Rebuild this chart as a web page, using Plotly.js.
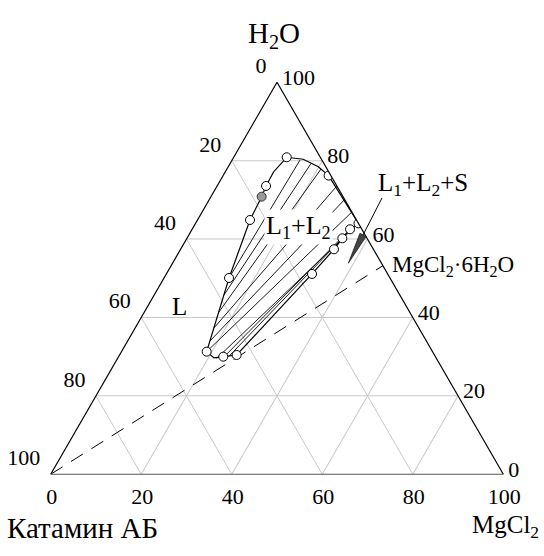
<!DOCTYPE html>
<html>
<head>
<meta charset="utf-8">
<script src="https://cdn.plot.ly/plotly-3.0.1.min.js"></script>
<style>html,body{margin:0;padding:0;background:#fff;}#chart{width:544px;height:556px;}</style>
</head>
<body>
<div id="chart"></div>
<script>
// Tick values and labels (labels run opposite to Plotly's default direction)
const tickVals = [0, 20, 40, 60, 80, 100];
const tickText = ['100', '80', '60', '40', '20', '0'];

// Vertex names
const vertexTop = 'H<sub>2</sub>O';
const vertexLeft = 'Катамин АБ';
const vertexRight = 'MgCl<sub>2</sub>';

// Binodal curve (a = H2O, b = Катамин АБ, c = MgCl2), mass %
const curveA = [31.28, 29.67, 30.0, 30.43, 51.10, 57.40, 60.20, 62.50, 64.0, 76.2, 78.47, 80.36, 80.87, 77.12, 73.55, 70.82, 64.87, 50.08, 31.28];
const curveB = [49.9, 49.08, 46.87, 43.7, 16.71, 8.71, 5.47, 2.61, 0.0, 0.5, 1.64, 4.02, 7.42, 12.21, 15.65, 17.98, 23.53, 35.56, 49.9];
const curveC = [18.82, 21.25, 23.13, 25.87, 32.19, 33.89, 34.33, 34.89, 36.0, 23.3, 19.89, 15.62, 11.71, 10.67, 10.80, 11.2, 11.6, 14.36, 18.82];

// Experimental points (open circles)
const ptA = [31.28, 30.0, 30.43, 51.10, 57.40, 60.20, 62.50, 64.0, 76.2, 80.87, 73.55, 64.87, 50.08];
const ptB = [49.9, 46.87, 43.7, 16.71, 8.71, 5.47, 2.61, 0.0, 0.5, 7.42, 15.65, 23.53, 35.56];
const ptC = [18.82, 23.13, 25.87, 32.19, 33.89, 34.33, 34.89, 36.0, 23.3, 11.71, 10.80, 11.6, 14.36];

// Special point (grey filled circle)
const greyA = [70.82];
const greyB = [17.98];
const greyC = [11.2];

// Tie lines: end 1 (right/upper boundary) and end 2 (left/lower boundary)
const tieA1 = [80.18, 79.29, 77.88, 73.55, 70.1, 66.91, 64.0, 62.5, 60.2];
const tieB1 = [4.82, 2.84, 1.33, 0.0, 0.0, 0.0, 0.0, 2.61, 5.47];
const tieC1 = [15.0, 17.87, 20.79, 26.45, 29.9, 33.09, 36.0, 34.89, 34.33];
const tieA2 = [50.08, 45.74, 41.4, 37.32, 34.0, 31.28, 29.54, 29.67, 30.05];
const tieB2 = [35.56, 38.84, 42.12, 45.27, 47.8, 49.9, 48.57, 47.11, 45.63];
const tieC2 = [14.36, 15.42, 16.48, 17.41, 18.2, 18.82, 21.89, 23.22, 24.32];

// Section from Катамин АБ to MgCl2·6H2O
const secA = [0, 53.2];
const secB = [100, 0];
const secC = [0, 46.8];

const FONT = 'Liberation Serif, Times New Roman, serif';
const NBSP = '\u00a0';
const traces = [];

for (let i = 0; i < tieA1.length; i++) {
  traces.push({
    type: 'scatterternary', mode: 'lines',
    a: [tieA1[i], tieA2[i]], b: [tieB1[i], tieB2[i]], c: [tieC1[i], tieC2[i]],
    line: {color: '#000', width: 0.9}, hoverinfo: 'skip', showlegend: false
  });
}
traces.push({
  type: 'scatterternary', mode: 'lines', a: secA, b: secB, c: secC,
  line: {color: '#000', width: 1, dash: '14px,10px'}, hoverinfo: 'skip', showlegend: false
});
traces.push({
  type: 'scatterternary', mode: 'lines', a: curveA, b: curveB, c: curveC,
  line: {color: '#000', width: 1.2}, hoverinfo: 'skip', showlegend: false
});
traces.push({
  type: 'scatterternary', mode: 'markers', a: ptA, b: ptB, c: ptC,
  marker: {symbol: 'circle', size: 9, color: '#fff', line: {color: '#000', width: 1}},
  hoverinfo: 'skip', showlegend: false
});
traces.push({
  type: 'scatterternary', mode: 'markers', a: greyA, b: greyB, c: greyC,
  marker: {symbol: 'circle', size: 9, color: '#999', line: {color: '#333', width: 1}},
  hoverinfo: 'skip', showlegend: false
});

function axis(lineColor, tlen, texts, prefix, suffix) {
  return {
    title: {text: ''},
    min: 0,
    tickmode: 'array', tickvals: tickVals, ticktext: texts,
    tickprefix: prefix, ticksuffix: suffix,
    ticks: 'outside', ticklen: tlen, tickcolor: 'rgba(0,0,0,0)',
    tickfont: {family: FONT, size: 22, color: '#000'},
    showgrid: true, gridcolor: '#c8c8c8', gridwidth: 1,
    showline: true, linecolor: lineColor, linewidth: 1.2
  };
}

// left-edge labels sit a little above their grid lines in the reference
const leftTickText = tickText.map(t => t + '<br>' + NBSP);

function px2paper(x, y) { return {x: x / 544, y: 1 - y / 556}; }
const pTip = px2paper(348.3, 263.3), pTail = px2paper(382, 198);
const pB1 = px2paper(366.2, 236.6), pB2 = px2paper(359.9, 233.3);

const layout = {
  width: 544, height: 556,
  margin: {l: 0, r: 0, t: 0, b: 0},
  paper_bgcolor: '#fff',
  font: {family: FONT, color: '#000'},
  showlegend: false,
  ternary: {
    sum: 100,
    domain: {x: [0.0932, 0.9252], y: [0.137, 0.862]},
    bgcolor: '#fff',
    aaxis: axis('#000', 7, leftTickText, '', ''),
    baxis: axis('#555', 2, tickText, '', NBSP),
    caxis: axis('#000', 3, tickText, NBSP, '')
  },
  annotations: [
    {xref: 'paper', yref: 'paper', x: 274 / 544, y: 1 - 35 / 556, xanchor: 'center', yanchor: 'middle',
     text: vertexTop, showarrow: false, font: {family: FONT, size: 29}},
    {xref: 'paper', yref: 'paper', x: 5 / 544, y: 1 - 528 / 556, xanchor: 'left', yanchor: 'middle',
     text: vertexLeft, showarrow: false, font: {family: FONT, size: 29}},
    {xref: 'paper', yref: 'paper', x: 541 / 544, y: 1 - 526 / 556, xanchor: 'right', yanchor: 'middle',
     text: vertexRight, showarrow: false, font: {family: FONT, size: 25}},
    {xref: 'paper', yref: 'paper', x: 298 / 544, y: 1 - 227 / 556, xanchor: 'center', yanchor: 'middle',
     text: 'L<sub>1</sub>+L<sub>2</sub>', showarrow: false, bgcolor: '#fff', font: {family: FONT, size: 26}},
    {xref: 'paper', yref: 'paper', x: 179 / 544, y: 1 - 306 / 556, xanchor: 'center', yanchor: 'middle',
     text: 'L', showarrow: false, font: {family: FONT, size: 25}},
    {xref: 'paper', yref: 'paper', x: 423 / 544, y: 1 - 185 / 556, xanchor: 'center', yanchor: 'middle',
     text: 'L<sub>1</sub>+L<sub>2</sub>+S', showarrow: false, font: {family: FONT, size: 25}},
    {xref: 'paper', yref: 'paper', x: 390 / 544, y: 1 - 266 / 556, xanchor: 'left', yanchor: 'middle',
     text: 'MgCl<sub>2</sub>·6H<sub>2</sub>O', showarrow: false, font: {family: FONT, size: 23}}
  ],
  shapes: [
    {type: 'line', xref: 'paper', yref: 'paper', x0: pTail.x, y0: pTail.y, x1: (pB1.x + pB2.x) / 2, y1: (pB1.y + pB2.y) / 2,
     line: {color: '#000', width: 1}},
    {type: 'path', xref: 'paper', yref: 'paper',
     path: 'M' + pTip.x + ',' + pTip.y + ' L' + pB1.x + ',' + pB1.y + ' L' + pB2.x + ',' + pB2.y + ' Z',
     fillcolor: '#444', line: {color: '#000', width: 0.6}}
  ]
};

Plotly.newPlot('chart', traces, layout, {displayModeBar: false, staticPlot: true});
</script>
</body>
</html>
